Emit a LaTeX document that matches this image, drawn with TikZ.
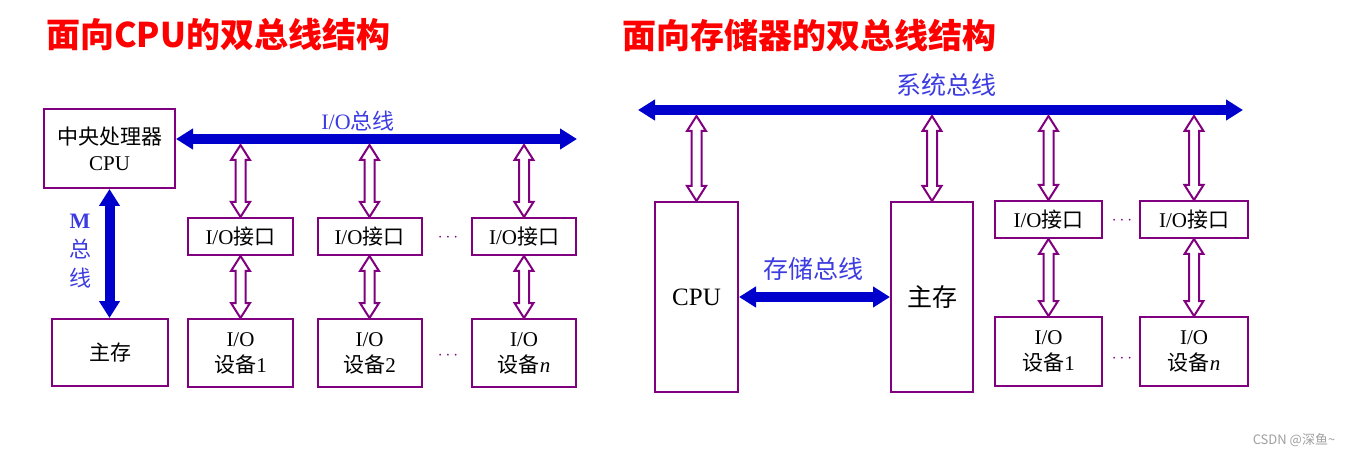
\documentclass[tikz,border=0pt]{standalone}
\usepackage{fontspec}
\setmainfont{Liberation Serif}
\newfontfamily\cjk{Noto Sans CJK SC}
\usetikzlibrary{arrows.meta,calc}
\definecolor{boxpurple}{RGB}{128,0,128}
\definecolor{busblue}{RGB}{0,0,204}
\definecolor{lblblue}{RGB}{60,60,225}
\definecolor{titlered}{RGB}{255,0,0}
\newcommand\zh[1]{{\cjk #1}}
\newcommand\hollow[2]{%
  \draw[harrow] let \p1=#1, \p2=#2 in
    (\x1,\y1) -- (\x1+9.5pt,\y1-15pt) -- (\x1+5pt,\y1-15pt) -- (\x1+5pt,\y2+15pt)
    -- (\x1+9.5pt,\y2+15pt) -- (\x1,\y2) -- (\x1-9.5pt,\y2+15pt) -- (\x1-5pt,\y2+15pt)
    -- (\x1-5pt,\y1-15pt) -- (\x1-9.5pt,\y1-15pt) -- cycle;}
\begin{document}
\begin{tikzpicture}[x=1pt,y=-1pt,
  bx/.style={draw=boxpurple, line width=2pt, rectangle, inner sep=0pt, align=center,
    font=\fontsize{21}{26}\selectfont},
  bigbx/.style={bx, font=\fontsize{25}{28}\selectfont},
  bus/.style={busblue, line width=10pt,
    {Triangle[length=17pt,width=20pt]}-{Triangle[length=17pt,width=20pt]}},
  harrow/.style={draw=boxpurple, line width=2pt, fill=white, line join=miter},
  lbl/.style={text=lblblue, font=\fontsize{22}{29}\selectfont, inner sep=0pt, align=center},
  biglbl/.style={lbl, font=\fontsize{25}{28}\selectfont},
  ttl/.style={text=titlered, font=\fontsize{34}{38}\selectfont\cjk\bfseries, inner sep=0pt, anchor=west},
  dotsn/.style={text=boxpurple, font=\fontsize{18}{20}\selectfont, inner sep=0pt}]
\useasboundingbox (0,0) rectangle (1350,457);

% titles
\node[ttl] (t1) at (46,35) {面向CPU的双总线结构};
\node[ttl] (t2) at (622,35) {面向存储器的双总线结构};

% ---------- left diagram ----------
\node[bx, minimum width=131, minimum height=79] (cpu) at (109.5,148.5) {\zh{中央处理器}\\CPU};
\node[bx, minimum width=116, minimum height=67] (mem) at (110,352.5) {\zh{主存}};
\node[bx, minimum width=105, minimum height=37] (if1) at (240.5,236.5) {I/O\zh{接口}};
\node[bx, minimum width=104, minimum height=37] (if2) at (369.5,236.5) {I/O\zh{接口}};
\node[bx, minimum width=104, minimum height=37] (if3) at (524,236.5) {I/O\zh{接口}};
\node[bx, minimum width=105, minimum height=68] (d1) at (240.5,353) {I/O\\\zh{设备}1};
\node[bx, minimum width=104, minimum height=68] (d2) at (369.5,353) {I/O\\\zh{设备}2};
\node[bx, minimum width=104, minimum height=68] (d3) at (524,353) {I/O\\\zh{设备}\textit{n}};
\node[dotsn] (dl1) at (448,238) {$\cdots$};
\node[dotsn] (dl2) at (448,356) {$\cdots$};

\coordinate (ioR) at (577,139);
\coordinate (iob) at (0,145);
\draw[bus] (cpu.east |- ioR) -- (ioR);
\node[lbl] (iolbl) at (358,121) {I/O\zh{总线}};
\draw[bus] (cpu.south) -- (cpu.south |- mem.north);
\node[lbl] (mlbl) at (80,251) {\textbf{M}\\\zh{总}\\\zh{线}};

\hollow{(if1.north |- iob)}{(if1.north)}
\hollow{(if2.north |- iob)}{(if2.north)}
\hollow{(if3.north |- iob)}{(if3.north)}
\hollow{(if1.south)}{(d1.north)}
\hollow{(if2.south)}{(d2.north)}
\hollow{(if3.south)}{(d3.north)}

% ---------- right diagram ----------
\node[bigbx, minimum width=83, minimum height=190] (rcpu) at (696.5,297) {CPU};
\node[bigbx, minimum width=82, minimum height=190] (rmem) at (932,297) {\zh{主存}};
\node[bx, minimum width=107, minimum height=37] (rif1) at (1048.5,219.5) {I/O\zh{接口}};
\node[bx, minimum width=108, minimum height=37] (rif2) at (1194,219.5) {I/O\zh{接口}};
\node[bx, minimum width=107, minimum height=69] (rd1) at (1048.5,351.5) {I/O\\\zh{设备}1};
\node[bx, minimum width=108, minimum height=69] (rd2) at (1194,351.5) {I/O\\\zh{设备}\textit{n}};
\node[dotsn] (dr1) at (1122,221) {$\cdots$};
\node[dotsn] (dr2) at (1122,359) {$\cdots$};

\coordinate (sbL) at (638,110);
\coordinate (sbR) at (1243,110);
\coordinate (sbb) at (0,116);
\draw[bus] (sbL) -- (sbR);
\node[biglbl] (slbl) at (946,85) {\zh{系统总线}};
\draw[bus] (rcpu.east) -- (rmem.west);
\node[biglbl] (mblbl) at (813,269) {\zh{存储总线}};

\hollow{(rcpu.north |- sbb)}{(rcpu.north)}
\hollow{(rmem.north |- sbb)}{(rmem.north)}
\hollow{(rif1.north |- sbb)}{(rif1.north)}
\hollow{(rif2.north |- sbb)}{(rif2.north)}
\hollow{(rif1.south)}{(rd1.north)}
\hollow{(rif2.south)}{(rd2.north)}

% watermark
\node[text=gray!75, font=\fontsize{13}{15}\selectfont\cjk, inner sep=0pt] (wm) at (1294,440) {CSDN @深鱼\textasciitilde};
\end{tikzpicture}
\end{document}
